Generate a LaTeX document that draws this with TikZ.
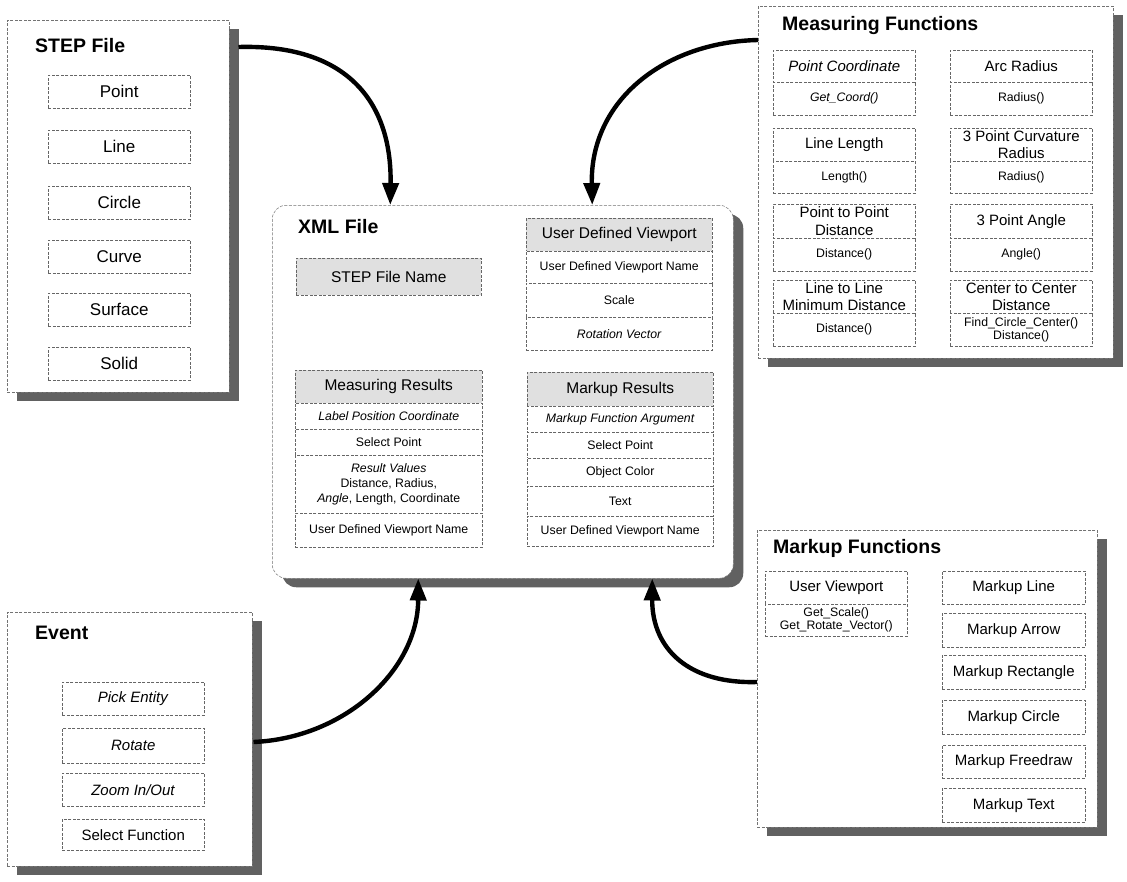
\documentclass[tikz,border=0pt]{standalone}
\usepackage{fontspec}
\setmainfont{Liberation Sans}
\usetikzlibrary{arrows.meta,shadows,calc}
\newcommand\fTitle{\fontsize{19.5}{22}\selectfont\bfseries}
\newcommand\fBig{\fontsize{17}{19}\selectfont}
\newcommand\fMid{\fontsize{15}{17.5}\selectfont}
\newcommand\fHead{\fontsize{15.5}{17}\selectfont}
\newcommand\fSmall{\fontsize{12.3}{14.5}\selectfont}
\newcommand\fSmallT{\fontsize{12.3}{13}\selectfont}
\tikzset{
  panel/.style={draw=black!55, dash pattern=on 3pt off 1.5pt, line width=0.5pt, fill=white,
    anchor=north west, inner sep=0pt,
    drop shadow={shadow xshift=10pt, shadow yshift=-9pt, opacity=1, fill=black!62}},
  ibox/.style={draw=black!60, dash pattern=on 3pt off 1.5pt, line width=0.5pt, fill=white,
    anchor=north west, inner sep=0pt, align=center},
  hbox/.style={ibox, fill=black!12},
  ptitle/.style={anchor=west, font=\fTitle, inner sep=0pt},
  conn/.style={line width=4.4pt, draw=black, -{Triangle[width=16pt,length=22pt]}},
}
\begin{document}
\begin{tikzpicture}[x=1pt,y=-1pt]
\useasboundingbox (0,0) rectangle (1127,881);
\fill[white] (0,0) rectangle (1127,881);

% ---------- STEP File panel
\node[panel, minimum width=222, minimum height=372] (steppanel) at (7,20) {};
\node[ptitle] (steptitle) at (35,46) {STEP File};
\begin{scope}[every node/.style={ibox, minimum width=142, minimum height=33, font=\fBig}]
\node (st1) at (48,75) {Point};
\node (st2) at (48,130) {Line};
\node (st3) at (48,186) {Circle};
\node (st4) at (48,240) {Curve};
\node (st5) at (48,293) {Surface};
\node (st6) at (48,347) {Solid};
\end{scope}

% ---------- Measuring Functions panel
\node[panel, minimum width=355, minimum height=352] (mfpanel) at (758,6) {};
\node[ptitle] (mftitle) at (782,25) {Measuring Functions};
\begin{scope}[every node/.style={ibox, minimum width=142}]
\node[minimum height=32, font=\fMid] (mf1h) at (773,50) {\textit{Point Coordinate}};
\node[minimum height=33, font=\fSmall] (mf1s) at (773,82) {\textit{Get\_Coord()}};
\node[minimum height=32, font=\fMid] (mf2h) at (950,50) {Arc Radius};
\node[minimum height=33, font=\fSmall] (mf2s) at (950,82) {Radius()};
\node[minimum height=33, font=\fMid] (mf3h) at (773,128) {Line Length};
\node[minimum height=32, font=\fSmall] (mf3s) at (773,161) {Length()};
\node[minimum height=33, font=\fMid] (mf4h) at (950,128) {3 Point Curvature\\Radius};
\node[minimum height=32, font=\fSmall] (mf4s) at (950,161) {Radius()};
\node[minimum height=34, font=\fMid] (mf5h) at (773,204) {Point to Point\\Distance};
\node[minimum height=33, font=\fSmall] (mf5s) at (773,238) {Distance()};
\node[minimum height=34, font=\fMid] (mf6h) at (950,204) {3 Point Angle};
\node[minimum height=33, font=\fSmall] (mf6s) at (950,238) {Angle()};
\node[minimum height=33, font=\fMid] (mf7h) at (773,280) {Line to Line\\Minimum Distance};
\node[minimum height=33, font=\fSmall] (mf7s) at (773,313) {Distance()};
\node[minimum height=33, font=\fMid] (mf8h) at (950,280) {Center to Center\\Distance};
\node[minimum height=33, font=\fSmallT] (mf8s) at (950,313) {Find\_Circle\_Center()\\Distance()};
\end{scope}

% ---------- XML File panel
\node[panel, rounded corners=14pt, minimum width=461, minimum height=373] (xml) at (272,205) {};
\node[ptitle] (xmltitle) at (298,227) {XML File};
\node[hbox, minimum width=185, minimum height=37, font=\fHead] (sfn) at (296,258) {STEP File Name};

\node[hbox, minimum width=186, minimum height=33, font=\fHead] (udvh) at (526,218) {User Defined Viewport};
\begin{scope}[every node/.style={ibox, minimum width=186, font=\fSmall}]
\node[minimum height=32] (udv1) at (526,251) {User Defined Viewport Name};
\node[minimum height=34] (udv2) at (526,283) {Scale};
\node[minimum height=33] (udv3) at (526,317) {\textit{Rotation Vector}};
\end{scope}

\node[hbox, minimum width=187, minimum height=33, font=\fHead] (mrh) at (295,370) {Measuring Results};
\begin{scope}[every node/.style={ibox, minimum width=187, font=\fSmall}]
\node[minimum height=26] (mr1) at (295,403) {\textit{Label Position Coordinate}};
\node[minimum height=26] (mr2) at (295,429) {Select Point};
\node[minimum height=58, font=\fontsize{12.3}{15}\selectfont] (mr3) at (295,455) {\textit{Result Values}\\Distance, Radius,\\\textit{Angle}, Length, Coordinate};
\node[minimum height=34] (mr4) at (295,513) {User Defined Viewport Name};
\end{scope}

\node[hbox, minimum width=186, minimum height=34, font=\fHead] (kh) at (527,372) {Markup Results};
\begin{scope}[every node/.style={ibox, minimum width=186, font=\fSmall}]
\node[minimum height=26] (k1) at (527,406) {\textit{Markup Function Argument}};
\node[minimum height=26] (k2) at (527,432) {Select Point};
\node[minimum height=28] (k3) at (527,458) {Object Color};
\node[minimum height=30] (k4) at (527,486) {Text};
\node[minimum height=30] (k5) at (527,516) {User Defined Viewport Name};
\end{scope}

% ---------- Event panel
\node[panel, minimum width=245, minimum height=254] (evpanel) at (7,612) {};
\node[ptitle] (evtitle) at (35,633) {Event};
\begin{scope}[every node/.style={ibox, minimum width=142, font=\fMid}]
\node[minimum height=33] (ev1) at (62,682) {\textit{Pick Entity}};
\node[minimum height=35] (ev2) at (62,728) {\textit{Rotate}};
\node[minimum height=33] (ev3) at (62,773) {\textit{Zoom In/Out}};
\node[minimum height=31] (ev4) at (62,819) {Select Function};
\end{scope}

% ---------- Markup Functions panel
\node[panel, minimum width=340, minimum height=297] (mkpanel) at (757,530) {};
\node[ptitle] (mktitle) at (773,548) {Markup Functions};
\node[ibox, minimum width=142, minimum height=33, font=\fMid] (uvh) at (765,571) {User Viewport};
\node[ibox, minimum width=142, minimum height=32, font=\fSmallT] (uvs) at (765,604) {Get\_Scale()\\Get\_Rotate\_Vector()};
\begin{scope}[every node/.style={ibox, minimum width=143, font=\fMid}]
\node[minimum height=33] (mk1) at (942,571) {Markup Line};
\node[minimum height=34] (mk2) at (942,613) {Markup Arrow};
\node[minimum height=34] (mk3) at (942,655) {Markup Rectangle};
\node[minimum height=34] (mk4) at (942,700) {Markup Circle};
\node[minimum height=33] (mk5) at (942,745) {Markup Freedraw};
\node[minimum height=34] (mk6) at (942,788) {Markup Text};
\end{scope}

% ---------- connectors
\draw[conn] ([xshift=9pt,yshift=-27pt]steppanel.north east) .. controls (345,44) and (392,100) .. ([xshift=-112.5pt]xml.north);
\draw[conn] ([yshift=-34pt]mfpanel.north west) .. controls (665,42) and (590,100) .. ([xshift=89.5pt]xml.north);
\draw[conn] ([xshift=1pt,yshift=-130pt]evpanel.north east) .. controls (345,738) and (418,670) .. ([xshift=-84.5pt]xml.south);
\draw[conn] ([yshift=-152pt]mkpanel.north west) .. controls (690,684) and (652,650) .. ([xshift=149.5pt]xml.south);
\end{tikzpicture}
\end{document}
